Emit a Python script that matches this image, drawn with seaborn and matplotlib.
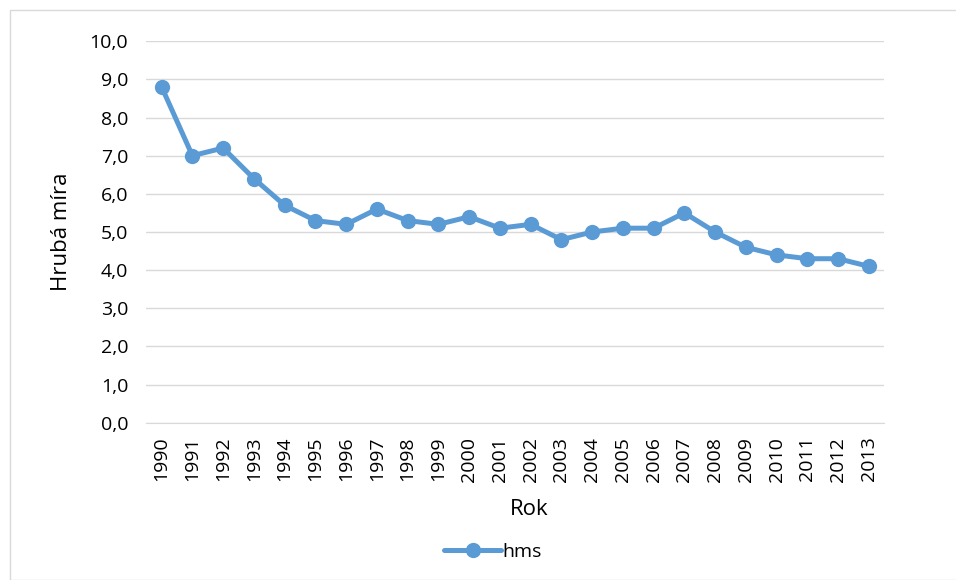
import numpy as np
import pandas as pd
import seaborn as sns
import matplotlib.pyplot as plt
from matplotlib.ticker import FuncFormatter, MultipleLocator
from matplotlib.patches import Rectangle
from matplotlib.lines import Line2D

years = [str(y) for y in range(1990, 2014)]
hms = [8.8, 7.0, 7.2, 6.4, 5.7, 5.3, 5.2, 5.6, 5.3, 5.2, 5.4, 5.1,
       5.2, 4.8, 5.0, 5.1, 5.1, 5.5, 5.0, 4.6, 4.4, 4.3, 4.3, 4.1]

df = pd.DataFrame({"Rok": years, "hms": hms})

sns.set_style("white")
plt.rcParams['font.family'] = ['Open Sans', 'DejaVu Sans']
plt.rcParams['text.color'] = 'black'
plt.rcParams['axes.labelcolor'] = 'black'

blue = "#5B9BD5"
fig = plt.figure(figsize=(9.56, 5.8), dpi=100)
ax = fig.add_axes([0.153, 0.271, 0.772, 0.658])

sns.lineplot(data=df, x="Rok", y="hms", ax=ax, color=blue, linewidth=3.6,
             marker="o", markersize=11, markeredgewidth=0, sort=False)

ax.set_ylim(0, 10)
ax.set_xlim(-0.5, len(years) - 0.5)
ax.yaxis.set_major_locator(MultipleLocator(1))
ax.yaxis.set_major_formatter(FuncFormatter(lambda v, p: f"{v:.1f}".replace(".", ",")))
ax.grid(axis="y", color="#D9D9D9", linewidth=1)
ax.set_axisbelow(True)
for s in ["top", "right", "left"]:
    ax.spines[s].set_visible(False)
ax.spines["bottom"].set_color("#D9D9D9")

ax.tick_params(axis="x", rotation=90, labelsize=14, length=0, pad=10, labelcolor="black")
ax.tick_params(axis="y", labelsize=14, length=0, pad=13, labelcolor="black")
ax.set_xlabel("Rok", fontsize=16)
ax.set_ylabel("Hrubá míra", fontsize=16)
ax.xaxis.set_label_coords(0.519, -0.2)
ax.yaxis.set_label_coords(-0.1, 0.5)

handle = Line2D([], [], color=blue, linewidth=3.6, marker="o", markersize=11, markeredgewidth=0)
fig.legend([handle], ["hms"], loc="center", bbox_to_anchor=(0.516, 0.048),
           frameon=False, fontsize=14, handlelength=2.9, handletextpad=0.1)

fig.patches.append(Rectangle((10 / 956, 0), 1, 1 - 10 / 580, transform=fig.transFigure,
                             fill=False, edgecolor="#D9D9D9", linewidth=1))

fig.savefig("out.png", dpi=100)
